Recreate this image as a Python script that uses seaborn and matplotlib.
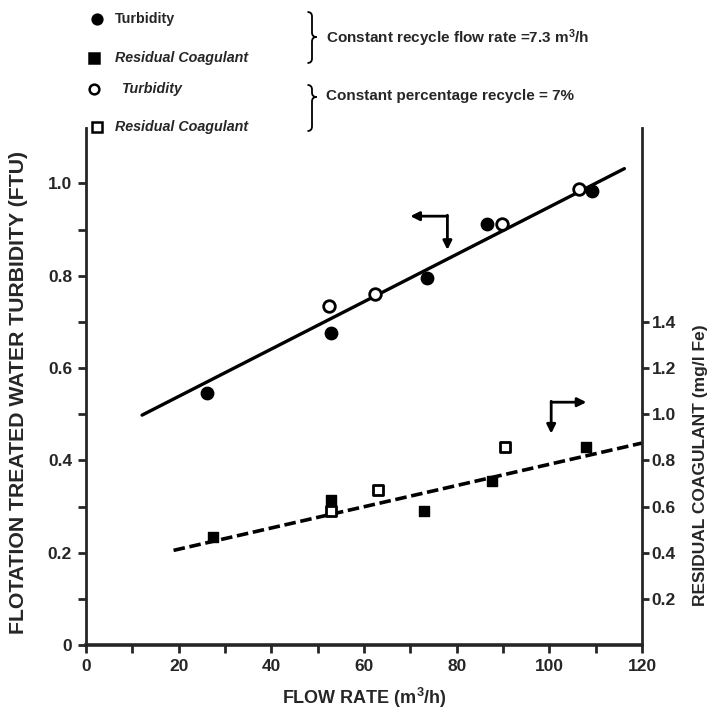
import matplotlib
matplotlib.use("Agg")
import matplotlib.pyplot as plt
from matplotlib.path import Path
from matplotlib.patches import PathPatch
from matplotlib.lines import Line2D
from matplotlib.ticker import FixedLocator, FuncFormatter
import seaborn as sns

# Turbidity (FTU), constant recycle flow rate = 7.3 m3/h
turb_flow_x = [26.1, 52.9, 73.6, 86.6, 109.3]
turb_flow_y = [0.545, 0.675, 0.794, 0.911, 0.983]
# Turbidity (FTU), constant percentage recycle = 7%
turb_pct_x = [52.5, 62.4, 89.8, 106.3]
turb_pct_y = [0.734, 0.760, 0.913, 0.987]
# Residual coagulant (mg/l Fe), constant recycle flow rate
coag_flow_x = [27.4, 52.9, 73.0, 87.7, 108.0]
coag_flow_y = [0.47, 0.63, 0.58, 0.71, 0.86]
# Residual coagulant (mg/l Fe), constant percentage recycle
coag_pct_x = [52.9, 63.1, 90.5]
coag_pct_y = [0.58, 0.67, 0.86]
# Trend lines
turb_fit_x = [12.1, 116.2]
turb_fit_y = [0.498, 1.032]
coag_fit_x = [18.9, 120.0]
coag_fit_y = [0.41, 0.875]

x_ticks = [0, 20, 40, 60, 80, 100, 120]
left_ticks = [0, 0.2, 0.4, 0.6, 0.8, 1.0]
right_ticks = [0.2, 0.4, 0.6, 0.8, 1.0, 1.2, 1.4]

sns.set_style("ticks")
plt.rcParams["font.family"] = ["Liberation Sans", "DejaVu Sans"]
plt.rcParams["font.weight"] = "bold"
plt.rcParams["mathtext.fontset"] = "custom"
plt.rcParams["mathtext.rm"] = "Liberation Sans"
plt.rcParams["mathtext.bf"] = "Liberation Sans:bold"

W, H = 715, 712
fig = plt.figure(figsize=(W / 100, H / 100), dpi=100)
ax = fig.add_axes([86 / W, 1 - 645 / H, (642 - 86) / W, (645 - 128) / H])
ax2 = ax.twinx()

ax.set_xlim(0, 120)
ax.set_ylim(0, 1.12)
ax2.set_ylim(0, 2.24)

# turbidity on the left axis
sns.lineplot(x=turb_fit_x, y=turb_fit_y, ax=ax, color="black", lw=2.4)
sns.scatterplot(x=turb_flow_x, y=turb_flow_y, ax=ax, marker="o", s=80,
                color="black", edgecolor="black", linewidth=1, zorder=4)
sns.scatterplot(x=turb_pct_x, y=turb_pct_y, ax=ax, marker="o", s=70,
                color="white", edgecolor="black", linewidth=2, zorder=4)

# residual coagulant on the right axis
sns.lineplot(x=coag_fit_x, y=coag_fit_y, ax=ax2, color="black", lw=2.6,
             linestyle=(0, (3.2, 1.3)))
sns.scatterplot(x=coag_flow_x, y=coag_flow_y, ax=ax2, marker="s", s=55,
                color="black", edgecolor="black", linewidth=1, zorder=4)
sns.scatterplot(x=coag_pct_x, y=coag_pct_y, ax=ax2, marker="s", s=45,
                color="white", edgecolor="black", linewidth=2, zorder=4)

# spines
for a in (ax, ax2):
    a.spines["top"].set_visible(False)
ax.spines["right"].set_visible(False)
ax2.spines["left"].set_visible(False)
ax2.spines["bottom"].set_visible(False)
ax.spines["left"].set_linewidth(2)
ax.spines["bottom"].set_linewidth(2.6)
ax2.spines["right"].set_linewidth(2)

# ticks
ax.xaxis.set_major_locator(FixedLocator(x_ticks))
ax.xaxis.set_minor_locator(FixedLocator([10, 30, 50, 70, 90, 110]))
ax.yaxis.set_major_locator(FixedLocator(left_ticks))
ax.yaxis.set_minor_locator(FixedLocator([0.1, 0.3, 0.5, 0.7, 0.9]))
ax2.yaxis.set_major_locator(FixedLocator(right_ticks))
ax.xaxis.set_major_formatter(FuncFormatter(lambda v, p: f"{v:g}"))
ax.yaxis.set_major_formatter(FuncFormatter(lambda v, p: "0" if v == 0 else f"{v:.1f}"))
ax2.yaxis.set_major_formatter(FuncFormatter(lambda v, p: f"{v:.1f}"))
ax.tick_params(axis="both", which="both", direction="out", length=6, width=2,
               labelsize=12.5, pad=4)
ax2.tick_params(axis="y", direction="out", length=5, width=2, labelsize=12.5, pad=2)
for lab in ax.get_xticklabels() + ax.get_yticklabels() + ax2.get_yticklabels():
    lab.set_fontweight("bold")

# axis labels
ax.set_xlabel(r"FLOW RATE ($\mathbf{m^3/h}$)", fontsize=13, fontweight="bold",
              labelpad=9)
ax.set_ylabel("FLOTATION TREATED WATER TURBIDITY (FTU)", fontsize=15.3,
              fontweight="bold")
ax.yaxis.set_label_coords(-0.105, 0.489)
ax2.set_ylabel("RESIDUAL COAGULANT (mg/l Fe)", fontsize=12.5, fontweight="bold")
ax2.yaxis.set_label_coords(1.092, 0.348)

# axis indicator arrows
arrow = dict(arrowstyle="-|>", color="black", lw=2, shrinkA=0, shrinkB=0,
             mutation_scale=13)
ax.annotate("", xy=(70.0, 0.929), xytext=(78.0, 0.929), arrowprops=arrow)
ax.annotate("", xy=(78.0, 0.856), xytext=(78.0, 0.931), arrowprops=arrow)
ax.annotate("", xy=(108.0, 0.526), xytext=(100.4, 0.526), arrowprops=arrow)
ax.annotate("", xy=(100.4, 0.458), xytext=(100.4, 0.528), arrowprops=arrow)

# key at the top of the figure
def fx(px):
    return px / W


def fy(py):
    return 1 - py / H


key = [
    ("o", "black", 97, 19, "Turbidity", 115, "normal"),
    ("s", "black", 94, 58, "Residual Coagulant", 115, "italic"),
    ("o", "white", 94, 89, "Turbidity", 122, "italic"),
    ("s", "white", 97, 127, "Residual Coagulant", 115, "italic"),
]
for mk, fc, mx, my, label, tx, style in key:
    fig.add_artist(Line2D([fx(mx)], [fy(my)], marker=mk, markersize=7,
                          markerfacecolor=fc, markeredgecolor="black",
                          markeredgewidth=1.8, linestyle="none",
                          transform=fig.transFigure))
    fig.text(fx(tx), fy(my), label, fontsize=10.3, fontweight="bold",
             fontstyle=style, va="center", ha="left")


def brace(x0, top, mid, bot, w=4.5):
    pts = [
        (x0 - w, top), (x0, top), (x0, top + w),
        (x0, mid - w),
        (x0, mid), (x0 + w, mid),
        (x0, mid), (x0, mid + w),
        (x0, bot - w),
        (x0, bot), (x0 - w, bot),
    ]
    codes = [Path.MOVETO, Path.CURVE3, Path.CURVE3, Path.LINETO,
             Path.CURVE3, Path.CURVE3, Path.CURVE3, Path.CURVE3,
             Path.LINETO, Path.CURVE3, Path.CURVE3]
    verts = [(fx(a), fy(b)) for a, b in pts]
    fig.add_artist(PathPatch(Path(verts, codes), fill=False, lw=1.3,
                             edgecolor="black", transform=fig.transFigure))


brace(312, 12, 37, 63)
brace(312, 85, 97, 131)
fig.text(fx(326), fy(38), r"Constant recycle flow rate =7.3 $\mathbf{m^3/h}$",
         fontsize=11, fontweight="bold", va="center", ha="left")
fig.text(fx(326), fy(96), "Constant percentage recycle = 7%", fontsize=11,
         fontweight="bold", va="center", ha="left")

fig.savefig("out.png", dpi=100)
